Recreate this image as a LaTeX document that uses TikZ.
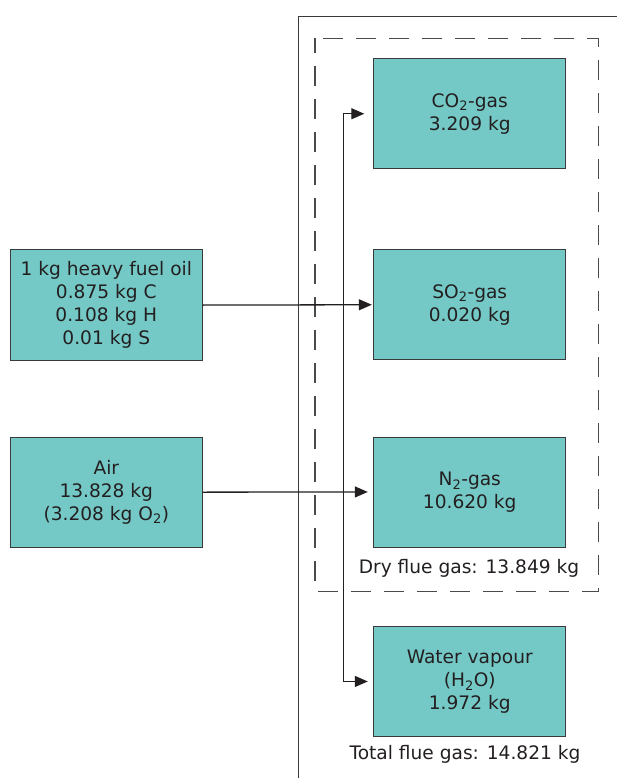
\documentclass[tikz,border=0pt]{standalone}
\usepackage{fontspec}
\setmainfont{DejaVu Sans}
\usetikzlibrary{arrows.meta}
\definecolor{tealfill}{HTML}{74C9C6}
\definecolor{txt}{HTML}{231F20}
\definecolor{edge}{HTML}{3A3A3A}
\definecolor{dashc}{HTML}{4A4A4A}
\begin{document}
\begin{tikzpicture}[x=1pt,y=-1pt,
  font=\fontsize{18.6}{23}\selectfont, text=txt,
  box/.style={draw=edge, line width=0.9pt, fill=tealfill, minimum width=192pt,
    minimum height=110pt, inner sep=0pt, align=center, anchor=north west},
  tip/.style={Triangle[length=13pt,width=11pt]},
  flow/.style={draw=txt, line width=1.3pt, -{Triangle[length=13pt,width=11pt]}},
  frame/.style={draw=edge, line width=1pt},
  dashframe/.style={draw=dashc, line width=1.2pt, dash pattern=on 20pt off 13pt, dash phase=5pt}]
\useasboundingbox (0,0) rectangle (617,778);
% frames
\draw[frame] (298,778) -- (298,16.5) -- (617,16.5);
\draw[dashframe] (315,38.3) rectangle (598.5,591.5);
% boxes
\node[box] (co2) at (373.3,58.3) {CO\textsubscript{2}-gas\\3.209 kg};
\node[box] (so2) at (373.3,249.3) {SO\textsubscript{2}-gas\\0.020 kg};
\node[box] (n2) at (373.3,436.5) {N\textsubscript{2}-gas\\10.620 kg};
\node[box] (h2o) at (373.3,626) {Water vapour\\(H\textsubscript{2}O)\\1.972 kg};
\node[box, minimum width=191.7pt, minimum height=110.7pt] (fuel) at (10,249.3)
  {1 kg heavy fuel oil\\0.875 kg C\\0.108 kg H\\0.01 kg S};
\node[box, minimum width=191.7pt] (air) at (10,436.7)
  {Air\\13.828 kg\\(3.208 kg O\textsubscript{2})};
% labels
\node (dry) at (469,568) {Dry flue gas: 13.849 kg};
\node (total) at (465,754) {Total flue gas: 14.821 kg};
% connectors
\coordinate (bus) at (343.5,0);
\draw[flow] (fuel.east) -- ([xshift=-1.5pt]so2.west);
\draw[flow] (air.east) -- ([xshift=-5.5pt]n2.west);
\draw[draw=txt, line width=1.3pt, {Triangle[length=13pt,width=11pt]}-{Triangle[length=13pt,width=11pt]}]
  ([xshift=-9pt]co2.west) -| (bus |- h2o.west) -- ([xshift=-5.5pt]h2o.west);
\end{tikzpicture}
\end{document}
